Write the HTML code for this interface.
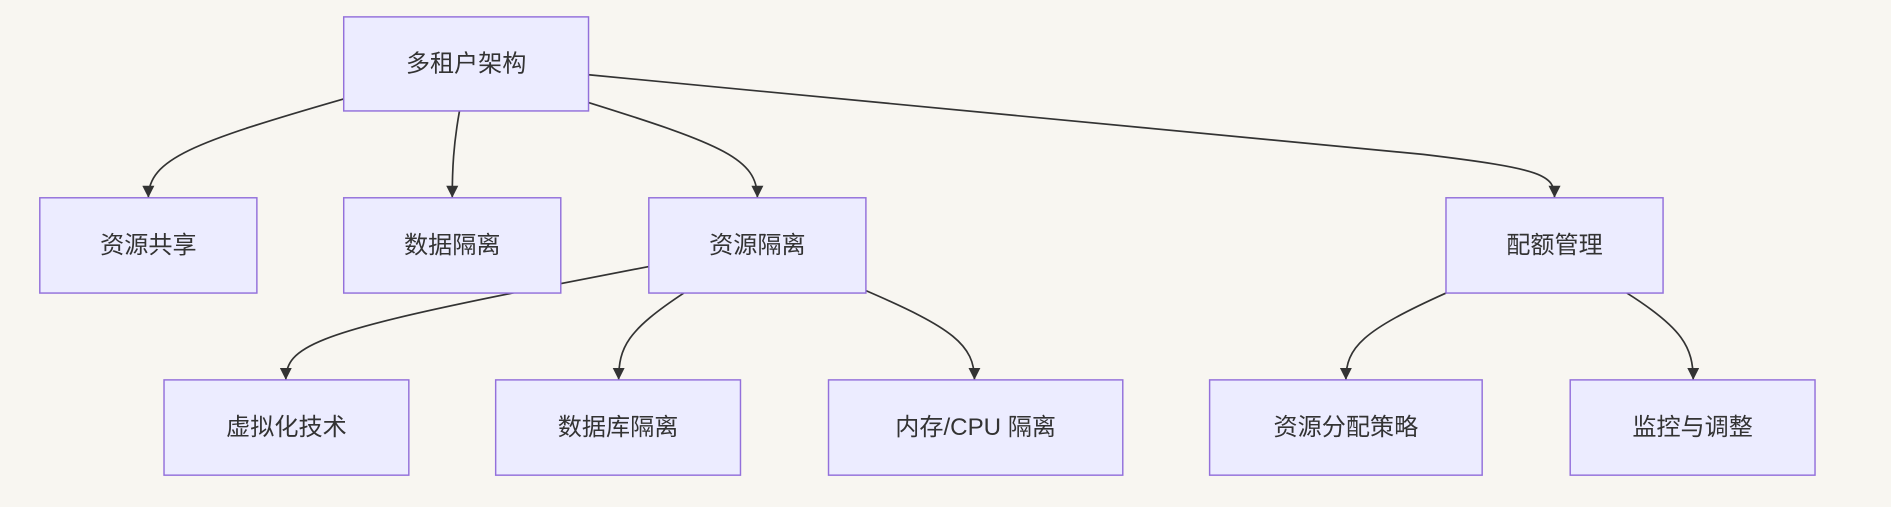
<!DOCTYPE html>
<html><head><meta charset="utf-8"><style>
html,body{margin:0;padding:0;background:#f8f6f1;}
svg{display:block;}
text{font-family:"Liberation Sans","Noto Sans CJK SC",sans-serif;font-size:20px;fill:#333;text-anchor:middle;dominant-baseline:central;}
rect{fill:#ececff;stroke:#9370db;stroke-width:1.2;}
path.e{fill:none;stroke:#333;stroke-width:1.4;}
</style></head><body>
<svg width="1891" height="507" viewBox="0 0 1568 420.4" xmlns="http://www.w3.org/2000/svg">
<defs><marker id="a" viewBox="0 0 10 10" refX="10" refY="5" markerWidth="10" markerHeight="10" markerUnits="userSpaceOnUse" orient="auto"><path d="M0,0L10,5L0,10z" fill="#333"/></marker></defs>
<rect x="0" y="0" width="1568" height="420.4" style="fill:#f8f6f1;stroke:none"/>
<path class="e" d="M285,82 C160,118 123,132 123,164" marker-end="url(#a)"/>
<path class="e" d="M381,92 C376,120 375,140 375,164" marker-end="url(#a)"/>
<path class="e" d="M488,85 C600,120 628,132 628,164" marker-end="url(#a)"/>
<path class="e" d="M488,62 L1180,128 C1280,140 1289,145 1289,164" marker-end="url(#a)"/>
<path class="e" d="M538,221 L430,242 C260,276 237,288 237,315" marker-end="url(#a)"/>
<path class="e" d="M567,243 C520,274 513,288 513,315" marker-end="url(#a)"/>
<path class="e" d="M718,241 C790,272 808,286 808,315" marker-end="url(#a)"/>
<path class="e" d="M1199,243 C1130,274 1116,288 1116,315" marker-end="url(#a)"/>
<path class="e" d="M1349,243 C1395,272 1404,288 1404,315" marker-end="url(#a)"/>
<rect x="285" y="14" width="203" height="78"/><text x="386.5" y="53">多租户架构</text>
<rect x="33" y="164" width="180" height="79"/><text x="123" y="203.5">资源共享</text>
<rect x="285" y="164" width="180" height="79"/><text x="375" y="203.5">数据隔离</text>
<rect x="538" y="164" width="180" height="79"/><text x="628" y="203.5">资源隔离</text>
<rect x="1199" y="164" width="180" height="79"/><text x="1289" y="203.5">配额管理</text>
<rect x="136" y="315" width="203" height="79"/><text x="237.5" y="354.5">虚拟化技术</text>
<rect x="411" y="315" width="203" height="79"/><text x="512.5" y="354.5">数据库隔离</text>
<rect x="687" y="315" width="244" height="79"/><text x="809" y="354.5">内存/CPU 隔离</text>
<rect x="1003" y="315" width="226" height="79"/><text x="1116" y="354.5">资源分配策略</text>
<rect x="1302" y="315" width="203" height="79"/><text x="1403.5" y="354.5">监控与调整</text>
</svg>
</body></html>
